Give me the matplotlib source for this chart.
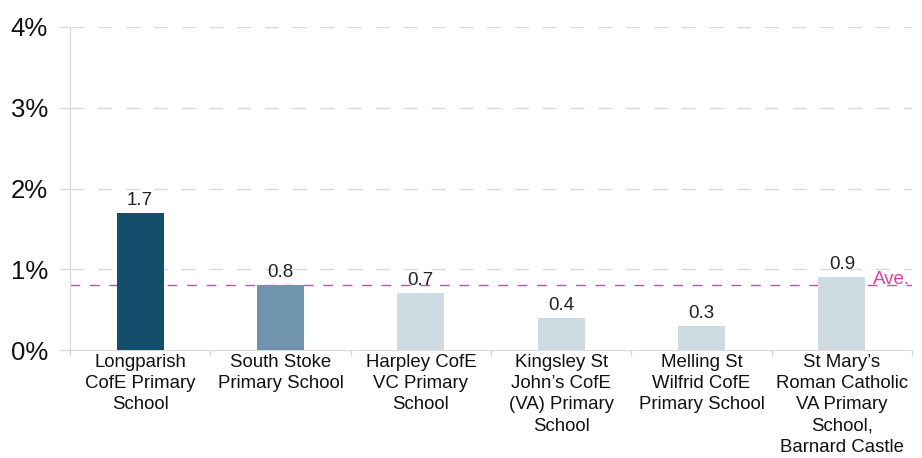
import matplotlib
matplotlib.use("Agg")
import matplotlib.pyplot as plt
import numpy as np

plt.rcParams['font.family'] = ['Liberation Sans', 'DejaVu Sans']

categories = ["Longparish\nCofE Primary\nSchool", "South Stoke\nPrimary School",
              "Harpley CofE\nVC Primary\nSchool", "Kingsley St\nJohn\u2019s CofE\n(VA) Primary\nSchool",
              "Melling St\nWilfrid CofE\nPrimary School",
              "St Mary\u2019s\nRoman Catholic\nVA Primary\nSchool,\nBarnard Castle"]
values = [1.7, 0.8, 0.7, 0.4, 0.3, 0.9]
colors = ["#134f6b", "#7094ae", "#cfdbe3", "#cfdbe3", "#cfdbe3", "#cfdbe3"]
average = 0.8
yticks = [0, 1, 2, 3, 4]
ytick_labels = ["0%", "1%", "2%", "3%", "4%"]

fig = plt.figure(figsize=(9.22, 4.58), dpi=100)
ax = fig.add_axes([70/922, 1-350/458, 842/922, 323/458])

x = np.arange(len(values))
ax.bar(x, values, width=0.335, color=colors, zorder=3)
for xi, v in zip(x, values):
    ax.text(xi, v + 0.05, f"{v:.1f}", ha="center", va="bottom", fontsize=13.5, color="#222222", zorder=4)

ax.set_xlim(-0.5, len(values) - 0.5)
ax.set_ylim(0, 4)
ax.set_yticks(yticks)
ax.set_yticklabels(ytick_labels, fontsize=18.5, color="#111111")
for yv in yticks[1:]:
    ax.axhline(yv, color="#d9d9d9", lw=1, ls=(0, (10, 10)), zorder=1)

ax.axhline(average, color="#e8409a", lw=1, ls=(0, (7, 7)), zorder=2)
ax.text(0.998, average + 0.07, "Ave.", color="#e8409a", fontsize=13.5,
        ha="right", va="center", clip_on=False,
        transform=ax.get_yaxis_transform())

ax.set_xticks(x)
ax.set_xticklabels(categories, fontsize=13.4, color="#111111", linespacing=1.32, va="top")
ax.set_xticks(np.arange(len(values) + 1) - 0.5, minor=True)
ax.tick_params(axis="x", which="major", length=0, pad=3)
ax.tick_params(axis="x", which="minor", length=4, color="#d9d9d9", width=1)
ax.tick_params(axis="y", length=7, color="#d9d9d9", width=1, pad=9)

for s in ["top", "right"]:
    ax.spines[s].set_visible(False)
ax.spines["left"].set_color("#d9d9d9")
ax.spines["bottom"].set_color("#d9d9d9")
ax.spines["left"].set_bounds(-0.04, 4)

fig.savefig("out.png", dpi=100)
